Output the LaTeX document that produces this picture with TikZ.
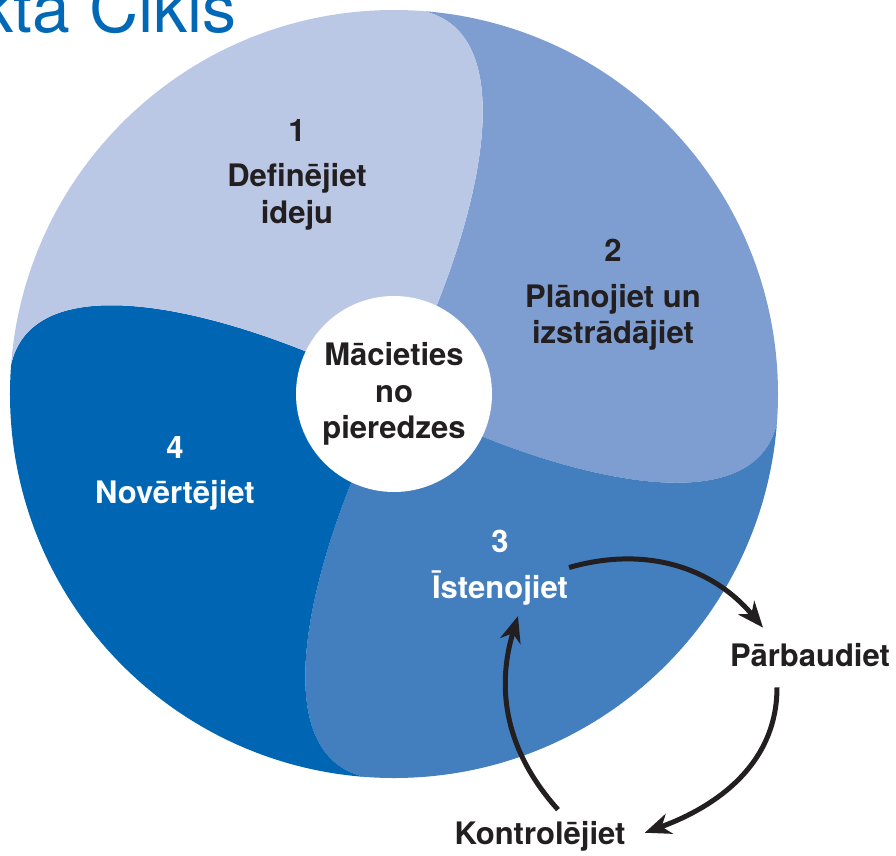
\documentclass[tikz,border=0pt]{standalone}
\usepackage{fontspec}
\setmainfont{TeX Gyre Heros}
\usetikzlibrary{arrows.meta}
\usetikzlibrary{positioning}

\definecolor{petalone}{HTML}{BAC8E6}
\definecolor{petaltwo}{HTML}{7E9ED1}
\definecolor{petalthree}{HTML}{437EBF}
\definecolor{petalfour}{HTML}{0066B3}
\definecolor{ink}{HTML}{231F20}
\definecolor{headblue}{HTML}{0068B4}

% one blade of the wheel, between two neighbouring seams
\def\bladepath{(0,0) -- (35,70) .. controls (95,210) and (130,392) .. (0,385) -- (0,520) -- (520,520) -- (520,0) -- (385,0) .. controls (392,-130) and (210,-95) .. (70,-35) -- cycle}

\begin{document}
\begin{tikzpicture}[x=1pt,y=1pt,
  steptext/.style={font=\fontsize{31}{36.5}\selectfont\bfseries,align=center,inner sep=1pt},
  cyc/.style={line width=5pt,draw=ink,-{Stealth[length=26pt,width=21pt,inset=8pt]}}]
\useasboundingbox (-394,-461) rectangle (502,394);

\begin{scope}
\clip (0,0) circle (384);
\fill[petaltwo] \bladepath;
\fill[petalthree,rotate=-90] \bladepath;
\fill[petalfour,rotate=-180] \bladepath;
\fill[petalone,rotate=90] \bladepath;
\end{scope}

\node[circle,fill=white,minimum size=196pt,steptext,text=ink] (core) at (0,0) {Mācieties\\no\\pieredzes};

\node[steptext,text=ink] (s1) at (-97,219.5) {1\\[9pt]Definējiet\\ideju};
\node[steptext,text=ink] (s2) at (219,99) {2\\[9pt]Plānojiet un\\izstrādājiet};
\node[steptext,text=white] (s3) at (106,-173.5) {3\\[9pt]Īstenojiet};
\node[steptext,text=white] (s4) at (-219,-79.5) {4\\[9pt]Novērtējiet};

\node[steptext,text=ink] (pb) at (416,-261.5) {Pārbaudiet};
\node[steptext,text=ink] (kt) at (146,-442.75) {Kontrolējiet};

\node[font=\fontsize{68}{80}\selectfont,text=headblue,anchor=base east,inner sep=0] (head) at (-157,361) {kta Cikls};

% small cycle round step 3
\draw[cyc] (s3.east) to[out=16,in=130] ([xshift=-47pt,yshift=15pt]pb.north);
\draw[cyc] ([xshift=-33pt,yshift=-19pt]pb.south) to[out=-90,in=20] ([xshift=18pt,yshift=4pt]kt.east);
\draw[cyc] ([xshift=18pt,yshift=11pt]kt.north) to[out=132,in=-107] ([xshift=18pt,yshift=-10pt]s3.south);

\end{tikzpicture}
\end{document}
